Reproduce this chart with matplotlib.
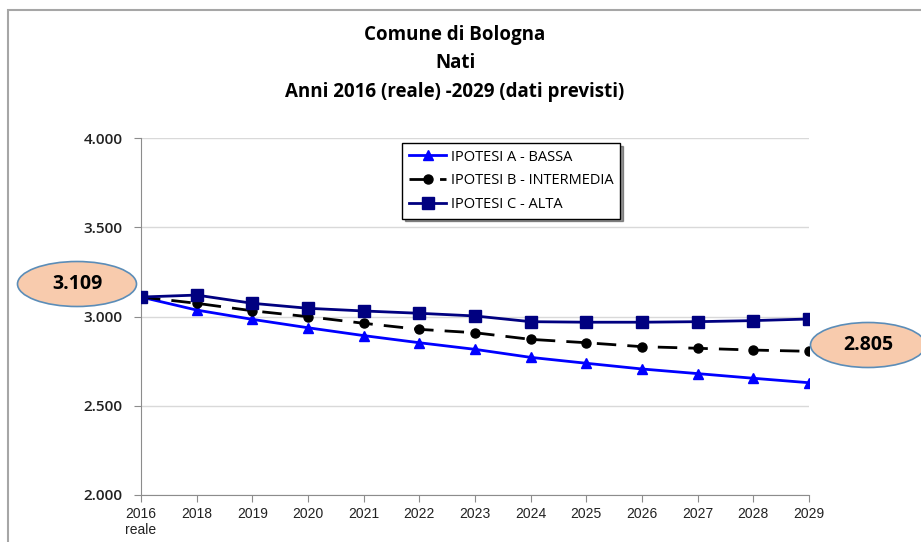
import matplotlib.pyplot as plt
from matplotlib.patches import Ellipse, Rectangle

# data
anni = ['2016\nreale', '2018', '2019', '2020', '2021', '2022', '2023',
        '2024', '2025', '2026', '2027', '2028', '2029']
ipotesi_a = [3109, 3036, 2984, 2937, 2893, 2853, 2816, 2771, 2738, 2706, 2680, 2654, 2629]
ipotesi_b = [3109, 3074, 3032, 2999, 2962, 2928, 2909, 2872, 2853, 2831, 2822, 2812, 2805]
ipotesi_c = [3109, 3120, 3074, 3046, 3031, 3018, 3003, 2971, 2968, 2968, 2971, 2977, 2986]
y_ticks = [2000, 2500, 3000, 3500, 4000]
nomi = ['IPOTESI A - BASSA', 'IPOTESI B - INTERMEDIA', 'IPOTESI C - ALTA']


def fmt(v):
    return f'{v:,.0f}'.replace(',', '.')


W, H = 921, 542
fig = plt.figure(figsize=(W / 100, H / 100), dpi=100)
ax = fig.add_axes([141 / W, 1 - 495 / H, (809 - 141) / W, (495 - 138) / H])

# outer chart frame
fig.patches.append(Rectangle((8 / W, -0.1), 1.2, 1.1 - 10 / H, transform=fig.transFigure,
                             fill=False, edgecolor='#a6a6a6', lw=1.5))

x = range(len(anni))
ax.plot(x, ipotesi_a, color='#0000ff', lw=2, marker='^', ms=6.5, label=nomi[0], zorder=3)
ax.plot(x, ipotesi_b, color='black', lw=2, ls=(0, (7, 4)), marker='o', ms=6.5,
        label=nomi[1], zorder=3)
ax.plot(x, ipotesi_c, color='#000080', lw=2, marker='s', ms=8, label=nomi[2], zorder=3)

ax.set_xlim(0, len(anni) - 1)
ax.set_ylim(y_ticks[0], y_ticks[-1])
ax.set_yticks(y_ticks)
ax.set_yticklabels([fmt(v) for v in y_ticks], fontsize=11, family='Open Sans',
                   fontweight='semibold', color='#222222')
ax.set_xticks(list(x))
ax.set_xticklabels(anni, fontsize=10, family='Liberation Sans')
ax.get_xticklabels()[0].set_multialignment('left')
ax.grid(axis='y', color='#d9d9d9', lw=1)
ax.set_axisbelow(True)
for s in ['top', 'right']:
    ax.spines[s].set_visible(False)
for s in ['left', 'bottom']:
    ax.spines[s].set_color('#8c8c8c')
ax.tick_params(axis='both', colors='#8c8c8c', length=5, labelcolor='#222222')
ax.tick_params(axis='y', pad=8)

leg = ax.legend(loc='upper left', bbox_to_anchor=(402 / W, 1 - 143 / H),
                bbox_transform=fig.transFigure, borderaxespad=0, fancybox=False,
                shadow={'color': '#333333'}, edgecolor='black', framealpha=1,
                handlelength=2.6, prop={'family': 'Open Sans', 'size': 10.5},
                borderpad=0.45, labelspacing=0.6, handletextpad=0.3)

fig.text(455 / W, 1 - 25 / H, 'Comune di Bologna\nNati\nAnni 2016 (reale) -2029 (dati previsti)',
         ha='center', va='top', fontsize=13.5, fontweight='bold', family='Open Sans',
         linespacing=1.55)

# highlighted labels
for cx, cy, w, val in [(77, 284, 119, ipotesi_b[0]), (868, 345, 115, ipotesi_b[-1])]:
    fig.patches.append(Ellipse((cx / W, 1 - cy / H), w / W, 45 / H, transform=fig.transFigure,
                               facecolor='#f8cbad', edgecolor='#5b8db8', lw=1.2, zorder=5))
    fig.text(cx / W, 1 - cy / H, fmt(val), ha='center', va='center', fontsize=14,
             fontweight='bold', family='Open Sans', zorder=6)

fig.savefig('out.png', dpi=100)
